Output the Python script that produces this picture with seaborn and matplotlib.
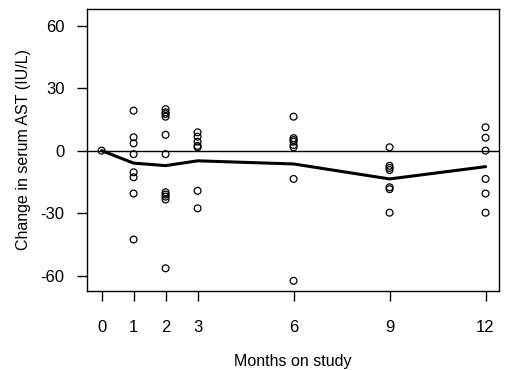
import pandas as pd
import numpy as np
import matplotlib
matplotlib.use('Agg')
import matplotlib.pyplot as plt
import seaborn as sns

# change in serum AST (IU/L) by visit month
month_0 = [0]
month_1 = [19.2, 6.4, 3.5, -1.7, -10.4, -12.8, -20.6, -42.7]
month_2 = [19.9, 18.4, 17.6, 16.3, 7.6, -1.7, -20.0, -21.1, -22.1, -23.5, -56.5]
month_3 = [8.8, 6.7, 4.3, 2.3, 1.6, -19.3, -27.7]
month_6 = [16.3, 6.0, 5.1, 4.3, 2.7, 1.6, -13.6, -62.5]
month_9 = [1.6, -7.3, -8.3, -9.3, -17.6, -18.5, -29.8]
month_12 = [11.2, 6.2, 0.0, -13.6, -20.6, -29.8]

months = [0, 1, 2, 3, 6, 9, 12]
trend = [0, -6.0, -7.2, -4.9, -6.4, -13.6, -7.7]

groups = [month_0, month_1, month_2, month_3, month_6, month_9, month_12]
rows = []
for m, vals in zip(months, groups):
    for v in vals:
        rows.append({'month': m, 'change': v})
df = pd.DataFrame(rows)
trend_df = pd.DataFrame({'month': months, 'change': trend})

sns.set_style("ticks")
plt.rcParams['font.family'] = ['Liberation Sans', 'DejaVu Sans']
plt.rcParams['axes.unicode_minus'] = False
plt.rcParams['text.color'] = 'black'
plt.rcParams['axes.labelcolor'] = 'black'

fig = plt.figure(figsize=(5.11, 3.70), dpi=100)
ax = fig.add_axes([0.170, 0.2135, 0.8065, 0.7622])

ax.axhline(0, color='black', linewidth=1.0, zorder=1)
sns.lineplot(data=trend_df, x='month', y='change', ax=ax, color='black',
             linewidth=2.2, zorder=2)
sns.scatterplot(data=df, x='month', y='change', ax=ax, marker='o',
                facecolor='none', edgecolor='black', linewidth=0.9, s=24, zorder=3)

ax.set_xlim(-0.46, 12.42)
ax.set_ylim(-67.4, 68)
ax.set_xticks(months)
ax.set_yticks([-60, -30, 0, 30, 60])
ax.set_xlabel('Months on study', fontsize=11.5, labelpad=13, color='black')
ax.set_ylabel('Change in serum AST (IU/L)', fontsize=11.5, labelpad=7, color='black')
ax.tick_params(axis='both', direction='out', length=7.2, width=1.0,
               colors='black', labelsize=12)
ax.tick_params(axis='x', pad=14)
ax.tick_params(axis='y', pad=9)
for s in ax.spines.values():
    s.set_visible(True)
    s.set_color('black')
    s.set_linewidth(1.0)

fig.savefig('out.png', dpi=100)
plt.close()
